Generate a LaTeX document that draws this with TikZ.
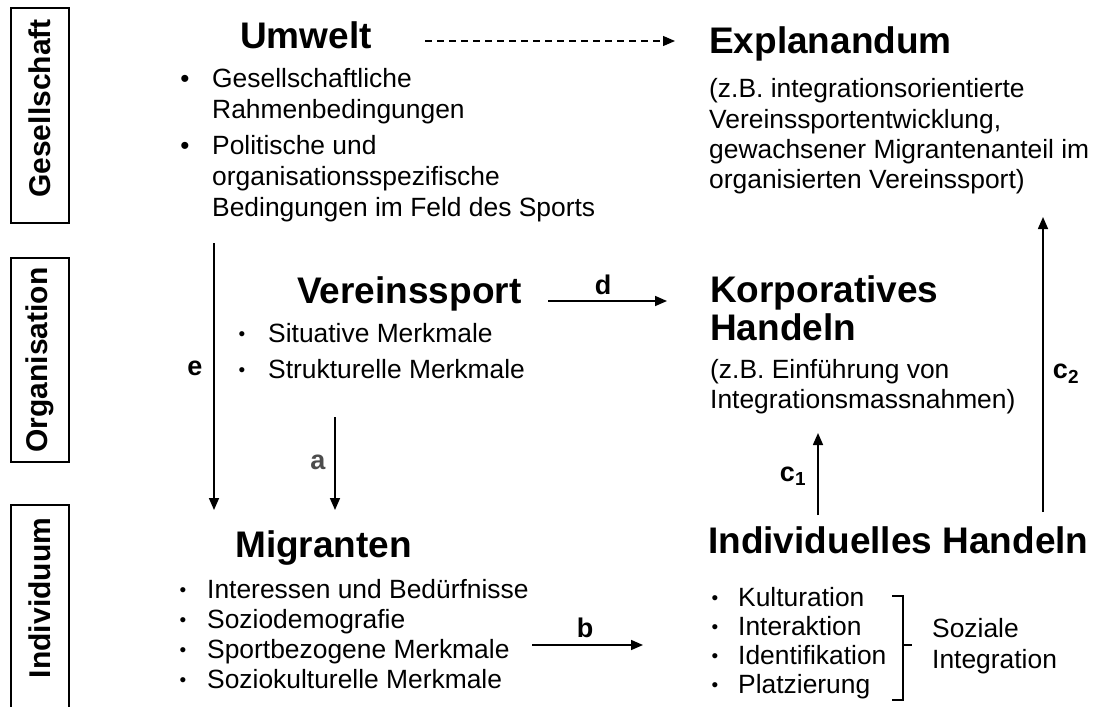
\documentclass[tikz,border=0pt]{standalone}
\usepackage{fontspec}
\setmainfont{Liberation Sans}
\usetikzlibrary{arrows.meta}

\tikzset{
  head/.style={anchor=base west, inner sep=0pt, font=\fontsize{37}{38}\selectfont\bfseries},
  txt/.style={anchor=base west, inner sep=0pt, font=\fontsize{26.4}{30}\selectfont},
  bul/.style={anchor=base, inner sep=0pt, font=\fontsize{26}{30}\selectfont},
  sbul/.style={anchor=base, inner sep=0pt, yshift=2pt, font=\fontsize{19}{20}\selectfont},
  lbl/.style={inner sep=0pt, font=\fontsize{27}{30}\selectfont\bfseries},
  level/.style={draw, line width=2pt, rotate=90, minimum height=58pt, inner sep=0pt, font=\fontsize{30}{30}\selectfont\bfseries},
  arr/.style={-{Triangle[length=12pt,width=10pt]}, line width=1.6pt},
}

\begin{document}
\begin{tikzpicture}[x=1pt, y=-1pt]
    \useasboundingbox (0,0) rectangle (1093,707);
    \clip (0,0) rectangle (1093,707);

    % Ebenen links
    \node[level, minimum width=215pt] (ges) at (40,115.5) {\hspace*{14pt}Gesellschaft};
    \node[level, minimum width=204pt] (org) at (40,360) {Organisation};
    \node[level, minimum width=210pt] (ind) at (40,610) {\hspace*{24pt}Individuum};

    \node[head] (umwelt) at (240,48) {Umwelt};
    \node[head] (expl) at (709,53) {Explanandum};
    \node[head] (verein) at (297,303) {Vereinssport};
    \node[head] (korp) at (710,302) {Korporatives};
    \node[head] (korp2) at (710,340) {Handeln};
    \node[head] (mig) at (235,557) {Migranten};
    \node[head] (indiv) at (708,553) {Individuelles Handeln};

    \foreach \y/\t [count=\i] in {87/Gesellschaftliche, 118/Rahmenbedingungen, 154/Politische und,
        185/organisationsspezifische, 216/Bedingungen im Feld des Sports}
        \node[txt] (umw-\i) at (212,\y) {\t};
    \foreach \y [count=\i] in {87,154}
        \node[bul] (umw-b\i) at (185,\y) {•};

    \foreach \y/\t [count=\i] in {97/(z.B. integrationsorientierte, 128/Vereinssportentwicklung{,},
        158/gewachsener Migrantenanteil im, 188/organisierten Vereinssport)}
        \node[txt] (expl-\i) at (709,\y) {\t};

    \foreach \y/\t [count=\i] in {342/Situative Merkmale, 378/Strukturelle Merkmale} {
        \node[txt] (ver-\i) at (268,\y) {\t};
        \node[sbul] (ver-b\i) at (242,\y) {•};
    }

    \foreach \y/\t [count=\i] in {378/(z.B. Einführung von, 408/Integrationsmassnahmen)}
        \node[txt] (korp-\i) at (710,\y) {\t};

    \foreach \y/\t [count=\i] in {598/Interessen und Bedürfnisse, 628/Soziodemografie,
        658/Sportbezogene Merkmale, 688/Soziokulturelle Merkmale} {
        \node[txt] (mig-\i) at (207,\y) {\t};
        \node[sbul] (mig-b\i) at (183,\y) {•};
    }

    \foreach \y/\t [count=\i] in {606/Kulturation, 635/Interaktion, 664/Identifikation, 693/Platzierung} {
        \node[txt] (ih-\i) at (738,\y) {\t};
        \node[sbul] (ih-b\i) at (715,\y) {•};
    }

    \draw[line width=1.3pt] (892,596) -- (903,596) -- (903,700) -- (892,700);
    \draw[line width=1.3pt] (903,645) -- (912,645);
    \node[txt] (soz-1) at (932,637) {Soziale};
    \node[txt] (soz-2) at (932,668) {Integration};

    % Pfeile
    \foreach \n/\xa/\ya/\xb/\yb in {e/214/243/214/510, a/335/417/335/510, d/548/301/667/301,
        b/532/645/643/645, c1/818/515/818/433, c2/1043/512/1043/217} {
        \coordinate (\n-s) at (\xa,\ya);
        \coordinate (\n-t) at (\xb,\yb);
        \draw[arr] (\n-s) -- (\n-t);
    }
    \coordinate (dash-s) at (425,41);
    \coordinate (dash-t) at (675,41);
    \draw[arr, line width=1.2pt, dash pattern=on 7pt off 5pt] (dash-s) -- (dash-t);

    \node[lbl] (lab-e) at (195,368) {e};
    \node[lbl, text=black!70] (lab-a) at (318,462) {a};
    \node[lbl] (lab-d) at (603,285) {d};
    \node[lbl] (lab-b) at (585,628) {b};
    \node[lbl] (lab-c1) at (793,476) {c\textsubscript{1}};
    \node[lbl] (lab-c2) at (1066,374) {c\textsubscript{2}};
\end{tikzpicture}
\end{document}
